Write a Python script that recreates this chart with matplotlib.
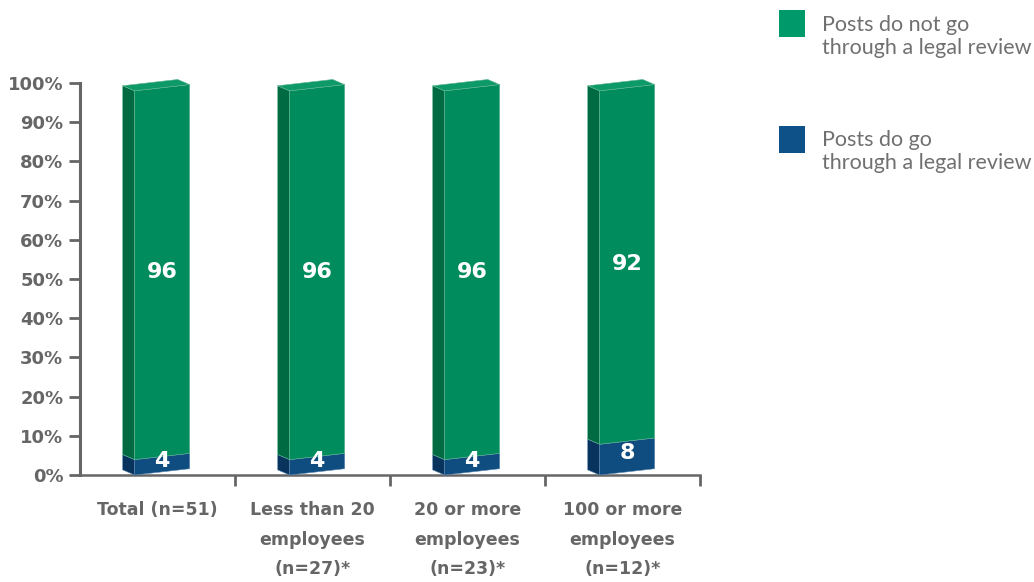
import matplotlib.pyplot as plt
from matplotlib.patches import Polygon, Rectangle

categories = ["Total (n=51)", "Less than 20\nemployees\n(n=27)*",
              "20 or more\nemployees\n(n=23)*", "100 or more\nemployees\n(n=12)*"]
legal_review = [4, 4, 4, 8]
no_legal_review = [96, 96, 96, 92]
y_ticks = [0, 10, 20, 30, 40, 50, 60, 70, 80, 90, 100]
y_labels = ["%d%%" % t for t in y_ticks]

gray = "#666666"
green = {"front": "#008c5c", "side": "#006a42", "top": "#0d9a68", "edge": "#5fb592"}
blue = {"front": "#0f4c80", "side": "#08335c", "top": "#1a5d95", "edge": "#5a86b0"}

fig = plt.figure(figsize=(10.34, 5.82), dpi=100)
ax = fig.add_axes([80 / 1034, 107 / 582, 620 / 1034, 392 / 582])

# pseudo-3d geometry (data units)
w = 0.355
dx = -0.077
dd = 1.3
rise = 1.6
scale = 0.98


def draw_segment(x0, ya, yb, col, top):
    x1 = x0 + w
    front = [(x0, ya), (x1, ya + rise), (x1, yb + rise), (x0, yb)]
    side = [(x0 + dx, ya + dd), (x0, ya), (x0, yb), (x0 + dx, yb + dd)]
    ax.add_patch(Polygon(side, closed=True, fc=col["side"], ec=col["edge"],
                         lw=0.4, clip_on=False, zorder=3))
    ax.add_patch(Polygon(front, closed=True, fc=col["front"], ec=col["edge"],
                         lw=0.4, clip_on=False, zorder=3))
    if top:
        tp = [(x0, yb), (x1, yb + rise), (x1 + dx, yb + rise + dd), (x0 + dx, yb + dd)]
        ax.add_patch(Polygon(tp, closed=True, fc=col["top"], ec=col["edge"],
                             lw=0.4, clip_on=False, zorder=3))


for i in range(len(categories)):
    c = i + 0.53
    x0 = c - w / 2
    b = legal_review[i] * scale
    g = no_legal_review[i] * scale
    draw_segment(x0, 0, b, blue, False)
    draw_segment(x0, b, b + g, green, True)
    ax.text(c, b / 2 + rise / 2 + 0.9, str(legal_review[i]), color="white", fontsize=16,
            fontweight="heavy", ha="center", va="center", zorder=5)
    ax.text(c, b + g / 2 + rise / 2, str(no_legal_review[i]), color="white", fontsize=16,
            fontweight="heavy", ha="center", va="center", zorder=5)

ax.set_xlim(0, 4)
ax.set_ylim(0, 100)
ax.set_yticks(y_ticks)
ax.set_yticklabels(y_labels, fontsize=13, fontweight="bold", color=gray)
ax.set_xticks([0.5, 1.5, 2.5, 3.5])
ax.set_xticklabels(categories, fontsize=12.5, fontweight="bold", color=gray, linespacing=1.8, va="top")
ax.set_xticks([1, 2, 3, 4], minor=True)
ax.tick_params(axis="x", which="major", length=0, pad=19)
ax.tick_params(axis="x", which="minor", length=8, width=2, color=gray, direction="out")
ax.tick_params(axis="y", length=8, width=2, color=gray, direction="out", pad=4)

for s in ["top", "right"]:
    ax.spines[s].set_visible(False)
ax.spines["left"].set_color(gray)
ax.spines["left"].set_linewidth(2.2)
ax.spines["bottom"].set_color(gray)
ax.spines["bottom"].set_linewidth(1.8)
ax.set_facecolor("none")

# legend
fig.patches.append(Rectangle((779 / 1034, 1 - 37 / 582), 26 / 1034, 27 / 582,
                             transform=fig.transFigure, fc="#00996a", ec="none"))
fig.patches.append(Rectangle((779 / 1034, 1 - 153 / 582), 26 / 1034, 27 / 582,
                             transform=fig.transFigure, fc="#0e5189", ec="none"))
fig.text(822 / 1034, 1 - 15 / 582, "Posts do not go\nthrough a legal review", fontsize=15.5,
         color="#707070", va="top", ha="left", linespacing=1.2, family="Lato")
fig.text(822 / 1034, 1 - 130 / 582, "Posts do go\nthrough a legal review", fontsize=15.5,
         color="#707070", va="top", ha="left", linespacing=1.2, family="Lato")

fig.savefig("out.png", dpi=100)
